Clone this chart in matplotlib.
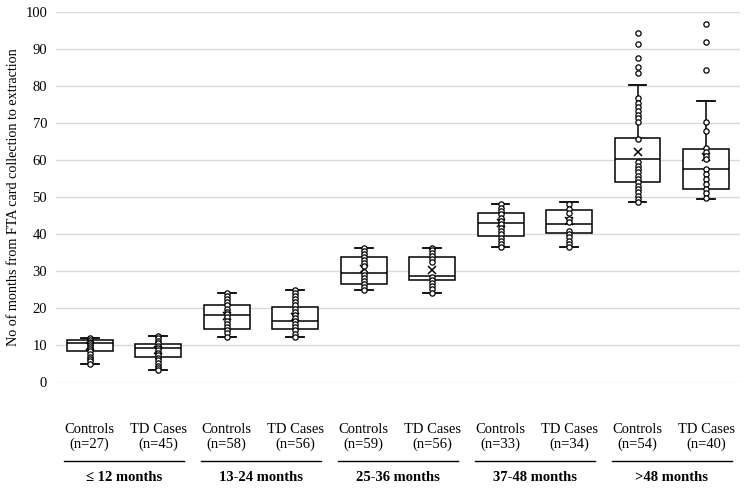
import matplotlib
matplotlib.use("Agg")
import matplotlib.pyplot as plt

# ---------------- data ----------------
groups = ['≤ 12 months', '13-24 months', '25-36 months', '37-48 months', '>48 months']
series = ['Controls', 'TD Cases']
n_counts = [27, 45, 58, 56, 59, 56, 33, 34, 54, 40]

whislo = [5.0, 3.2, 12.2, 12.2, 24.8, 24.2, 36.6, 36.6, 48.8, 49.5]
q1     = [8.5, 6.8, 14.3, 14.3, 26.6, 27.6, 39.5, 40.2, 54.1, 52.2]
median = [10.5, 9.35, 18.1, 16.6, 29.4, 28.8, 43.1, 42.8, 60.4, 57.6]
q3     = [11.4, 10.4, 20.8, 20.4, 33.8, 33.9, 45.8, 46.6, 66.0, 63.1]
whishi = [12.0, 12.6, 24.0, 24.9, 36.3, 36.3, 48.1, 48.8, 80.3, 76.1]
means  = [9.8, 8.7, 18.0, 17.7, 30.6, 30.3, 43.1, 43.6, 62.2, 61.0]

inner_points = [
    [12.0, 11.4, 10.9, 10.5, 10.0, 9.5, 8.9, 8.3, 7.6, 6.9, 6.2, 5.6, 5.0],
    [12.6, 11.9, 11.2, 10.5, 9.9, 9.3, 8.7, 8.0, 7.3, 6.6, 5.9, 5.2, 4.5, 3.8, 3.2],
    [24.0, 23.2, 22.4, 21.6, 20.8, 19.9, 19.1, 18.3, 17.5, 16.6, 15.8, 15.0, 14.2, 13.3, 12.2],
    [24.9, 24.1, 23.3, 22.4, 21.6, 20.8, 19.9, 19.1, 18.2, 17.4, 16.6, 15.7, 14.9, 14.0, 13.1, 12.2],
    [36.3, 35.5, 34.7, 33.8, 33.0, 32.2, 31.4, 29.7, 28.9, 28.1, 27.3, 26.5, 25.6, 24.8],
    [36.3, 35.6, 34.9, 34.1, 33.4, 32.6, 28.5, 27.7, 26.9, 26.0, 25.1, 24.2],
    [48.1, 47.2, 46.3, 45.4, 44.5, 43.6, 42.7, 41.8, 40.9, 40.0, 39.1, 38.2, 37.4, 36.6],
    [48.1, 46.9, 45.8, 44.0, 43.3, 40.9, 40.1, 39.2, 38.3, 37.4, 36.6],
    [76.8, 75.4, 74.3, 73.2, 72.2, 71.4, 70.4, 65.8, 59.4, 58.5, 57.6, 56.7, 55.8, 54.9,
     54.0, 53.1, 52.2, 51.3, 50.4, 49.6, 48.8],
    [70.2, 67.9, 63.3, 62.2, 61.2, 60.3, 57.7, 56.4, 55.0, 53.7, 52.2, 51.1, 49.8],
]
outliers = [[], [], [], [], [], [], [], [],
            [94.3, 91.4, 87.6, 85.1, 83.7],
            [96.8, 92.0, 84.4]]

y_ticks = [0, 10, 20, 30, 40, 50, 60, 70, 80, 90, 100]
y_label = 'No of months from FTA card collection to extraction'

# ---------------- plot ----------------
serif = ['Liberation Serif', 'DejaVu Serif']
plt.rcParams['font.family'] = serif
FS = 10.5

fig = plt.figure(figsize=(7.5, 4.9), dpi=100)
ax = fig.add_axes([0.074, 0.22, 0.913, 0.755])

positions = [i + 0.5 for i in range(len(median))]
stats = []
for i in range(len(median)):
    stats.append(dict(med=median[i], q1=q1[i], q3=q3[i], whislo=whislo[i],
                      whishi=whishi[i], mean=means[i], fliers=outliers[i], label=''))

ax.bxp(stats, positions=positions, widths=0.67, patch_artist=True,
       showmeans=True, showfliers=True,
       boxprops=dict(facecolor='white', edgecolor='black', linewidth=1.1),
       medianprops=dict(color='black', linewidth=1.1),
       whiskerprops=dict(color='black', linewidth=1.1),
       capprops=dict(color='black', linewidth=1.3),
       capwidths=0.26,
       meanprops=dict(marker='x', markeredgecolor='black', markersize=6, markeredgewidth=1.1),
       flierprops=dict(marker='o', markerfacecolor='white', markeredgecolor='black',
                       markersize=3.8, markeredgewidth=0.9),
       zorder=2)

for i, pts in enumerate(inner_points):
    ax.plot([positions[i]] * len(pts), pts, linestyle='none', marker='o',
            markerfacecolor='white', markeredgecolor='black', markersize=3.8,
            markeredgewidth=0.9, zorder=3)

ax.set_xlim(0, 10)
ax.set_ylim(0, 100)
ax.set_yticks(y_ticks)
ax.set_yticklabels([str(t) for t in y_ticks], fontsize=FS)
ax.tick_params(axis='y', length=0, pad=6)
ax.set_xticks([])
ax.yaxis.grid(True, color='#d9d9d9', linewidth=1.0)
ax.set_axisbelow(True)
for s in ax.spines.values():
    s.set_visible(False)

fig.text(0.018, 0.598, y_label, rotation=90, ha='center', va='center', fontsize=10.2)

trans = ax.get_xaxis_transform()
for i in range(len(median)):
    ax.text(positions[i], -0.148, f"{series[i % 2]}\n(n={n_counts[i]})",
            transform=trans, ha='center', va='center', fontsize=FS,
            linespacing=1.2, clip_on=False)

for g, name in enumerate(groups):
    x0 = 2 * g + 0.12
    x1 = 2 * g + 1.88
    ax.plot([x0, x1], [-0.212, -0.212], transform=trans, color='black',
            linewidth=1.0, clip_on=False)
    ax.text(2 * g + 1, -0.258, name, transform=trans, ha='center', va='center',
            fontsize=FS, fontweight='bold', clip_on=False)

fig.savefig('out.png', dpi=100, facecolor='white')
